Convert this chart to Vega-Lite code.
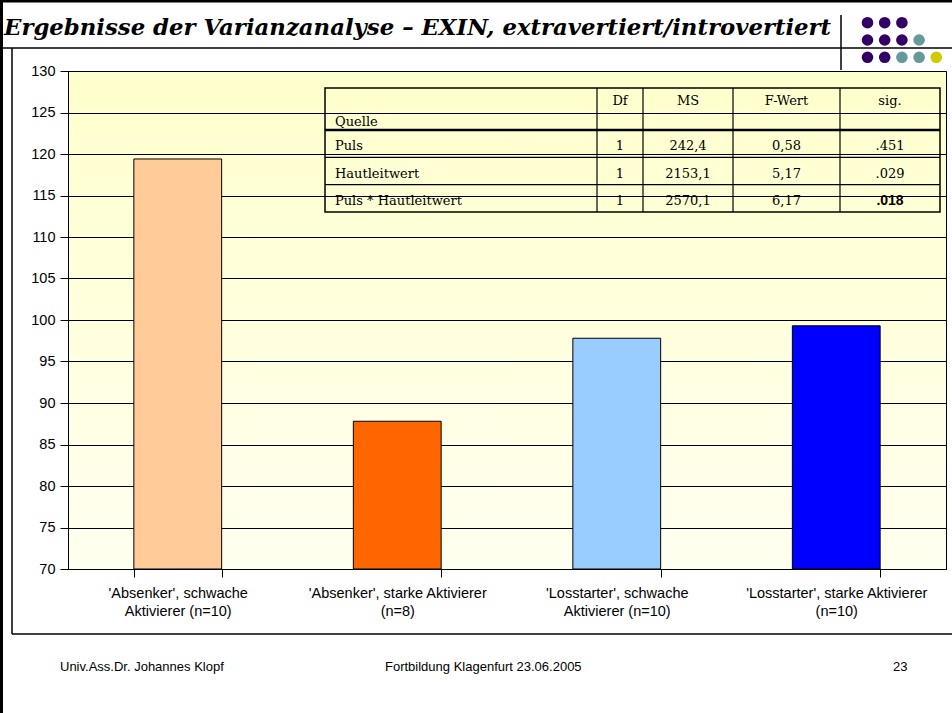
{
  "$schema": "https://vega.github.io/schema/vega-lite/v6.json",
  "width": 878,
  "height": 498,
  "autosize": {"type": "none"},
  "padding": {"left": 68, "top": 71, "right": 6, "bottom": 144},
  "background": "#ffffff",
  "config": {
    "view": {
      "fill": {"gradient": "linear", "x1": 0, "y1": 0, "x2": 0, "y2": 1, "stops": [{"offset": 0, "color": "#FFFFCC"}, {"offset": 1, "color": "#FFFFF0"}]},
      "stroke": "#000000",
      "strokeWidth": 1
    },
    "text": {"font": "Liberation Sans"}
  },
  "data": {"values": [{}]},
  "datasets": {
    "balken": [
      {"gruppe": "'Absenker', schwache Aktivierer (n=10)", "mittelwert": 119.4},
      {"gruppe": "'Absenker', starke Aktivierer (n=8)", "mittelwert": 87.8},
      {"gruppe": "'Losstarter', schwache Aktivierer (n=10)", "mittelwert": 97.8},
      {"gruppe": "'Losstarter', starke Aktivierer (n=10)", "mittelwert": 99.3}
    ],
    "tabelle": [
      {"Quelle": "Puls", "Df": "1", "MS": "242,4", "F": "0,58", "sig": ".451"},
      {"Quelle": "Hautleitwert", "Df": "1", "MS": "2153,1", "F": "5,17", "sig": ".029"},
      {"Quelle": "Puls * Hautleitwert", "Df": "1", "MS": "2570,1", "F": "6,17", "sig": ".018"}
    ],
    "punkte": [
      {"reihe": 1, "spalte": 1, "farbe": "lila"},
      {"reihe": 1, "spalte": 2, "farbe": "lila"},
      {"reihe": 1, "spalte": 3, "farbe": "lila"},
      {"reihe": 2, "spalte": 1, "farbe": "lila"},
      {"reihe": 2, "spalte": 2, "farbe": "lila"},
      {"reihe": 2, "spalte": 3, "farbe": "lila"},
      {"reihe": 2, "spalte": 4, "farbe": "petrol"},
      {"reihe": 3, "spalte": 1, "farbe": "lila"},
      {"reihe": 3, "spalte": 2, "farbe": "lila"},
      {"reihe": 3, "spalte": 3, "farbe": "petrol"},
      {"reihe": 3, "spalte": 4, "farbe": "petrol"},
      {"reihe": 3, "spalte": 5, "farbe": "gelb"}
    ]
  },
  "layer": [
    {
      "layer": [
        {
          "mark": {"type": "text", "align": "left", "baseline": "alphabetic", "font": "DejaVu Serif", "fontSize": 22.8, "fontStyle": "italic", "fontWeight": "bold", "color": "#000000"},
          "encoding": {
            "x": {"datum": -64, "type": "quantitative", "scale": {"domain": [0, 878], "nice": false, "zero": false}, "axis": null},
            "y": {"datum": -36, "type": "quantitative", "scale": {"domain": [0, 498], "nice": false, "zero": false, "reverse": true}, "axis": null},
            "text": {"value": "Ergebnisse der Varianzanalyse – EXIN, extravertiert/introvertiert"}
          }
        },
        {
          "mark": {"type": "text", "align": "left", "baseline": "alphabetic", "font": "Liberation Sans", "fontSize": 13, "color": "#000000"},
          "encoding": {
            "x": {"datum": -8, "type": "quantitative", "scale": {"domain": [0, 878], "nice": false, "zero": false}, "axis": null},
            "y": {"datum": 600, "type": "quantitative", "scale": {"domain": [0, 498], "nice": false, "zero": false, "reverse": true}, "axis": null},
            "text": {"value": "Univ.Ass.Dr. Johannes Klopf"}
          }
        },
        {
          "mark": {"type": "text", "align": "left", "baseline": "alphabetic", "font": "Liberation Sans", "fontSize": 13, "color": "#000000"},
          "encoding": {
            "x": {"datum": 317, "type": "quantitative", "scale": {"domain": [0, 878], "nice": false, "zero": false}, "axis": null},
            "y": {"datum": 600, "type": "quantitative", "scale": {"domain": [0, 498], "nice": false, "zero": false, "reverse": true}, "axis": null},
            "text": {"value": "Fortbildung Klagenfurt 23.06.2005"}
          }
        },
        {
          "mark": {"type": "text", "align": "left", "baseline": "alphabetic", "font": "Liberation Sans", "fontSize": 13, "color": "#000000"},
          "encoding": {
            "x": {"datum": 825, "type": "quantitative", "scale": {"domain": [0, 878], "nice": false, "zero": false}, "axis": null},
            "y": {"datum": 600, "type": "quantitative", "scale": {"domain": [0, 498], "nice": false, "zero": false, "reverse": true}, "axis": null},
            "text": {"value": "23"}
          }
        },
        {
          "mark": {"type": "rule", "color": "#000000", "strokeWidth": 3},
          "encoding": {
            "x": {"datum": -68, "type": "quantitative", "scale": {"domain": [0, 878], "nice": false, "zero": false}, "axis": null},
            "x2": {"datum": 884},
            "y": {"datum": -70, "type": "quantitative", "scale": {"domain": [0, 498], "nice": false, "zero": false, "reverse": true}, "axis": null}
          }
        },
        {
          "mark": {"type": "rule", "color": "#000000", "strokeWidth": 3},
          "encoding": {
            "x": {"datum": -66.5, "type": "quantitative", "scale": {"domain": [0, 878], "nice": false, "zero": false}, "axis": null},
            "y": {"datum": -71, "type": "quantitative", "scale": {"domain": [0, 498], "nice": false, "zero": false, "reverse": true}, "axis": null},
            "y2": {"datum": 642}
          }
        },
        {
          "mark": {"type": "rule", "color": "#000000", "strokeWidth": 1.5},
          "encoding": {
            "x": {"datum": -68, "type": "quantitative", "scale": {"domain": [0, 878], "nice": false, "zero": false}, "axis": null},
            "x2": {"datum": 884},
            "y": {"datum": -23, "type": "quantitative", "scale": {"domain": [0, 498], "nice": false, "zero": false, "reverse": true}, "axis": null}
          }
        },
        {
          "mark": {"type": "rule", "color": "#000000", "strokeWidth": 1.5},
          "encoding": {
            "x": {"datum": 773, "type": "quantitative", "scale": {"domain": [0, 878], "nice": false, "zero": false}, "axis": null},
            "y": {"datum": -56, "type": "quantitative", "scale": {"domain": [0, 498], "nice": false, "zero": false, "reverse": true}, "axis": null},
            "y2": {"datum": -1}
          }
        },
        {
          "mark": {"type": "rule", "color": "#000000", "strokeWidth": 1.5},
          "encoding": {
            "x": {"datum": -56, "type": "quantitative", "scale": {"domain": [0, 878], "nice": false, "zero": false}, "axis": null},
            "y": {"datum": -23, "type": "quantitative", "scale": {"domain": [0, 498], "nice": false, "zero": false, "reverse": true}, "axis": null},
            "y2": {"datum": 563}
          }
        },
        {
          "mark": {"type": "rule", "color": "#000000", "strokeWidth": 1.5},
          "encoding": {
            "x": {"datum": -56, "type": "quantitative", "scale": {"domain": [0, 878], "nice": false, "zero": false}, "axis": null},
            "x2": {"datum": 884},
            "y": {"datum": 563, "type": "quantitative", "scale": {"domain": [0, 498], "nice": false, "zero": false, "reverse": true}, "axis": null}
          }
        }
      ]
    },
    {
      "data": {"name": "punkte"},
      "mark": {"type": "point", "filled": true, "size": 135, "opacity": 1, "strokeWidth": 0},
      "encoding": {
        "x": {"field": "spalte", "type": "quantitative", "scale": {"domain": [1, 5], "range": [799.5, 868.3], "nice": false, "zero": false}, "axis": null},
        "y": {"field": "reihe", "type": "quantitative", "scale": {"domain": [1, 3], "range": [-48.3, -13.7], "nice": false, "zero": false}, "axis": null},
        "color": {"field": "farbe", "type": "nominal", "scale": {"domain": ["lila", "petrol", "gelb"], "range": ["#330066", "#669999", "#CCCC00"]}, "legend": null}
      }
    },
    {
      "data": {"name": "balken"},
      "mark": {"type": "bar", "stroke": "#000000", "strokeWidth": 1},
      "encoding": {
        "x": {
          "field": "gruppe", "type": "nominal", "sort": null,
          "scale": {"paddingInner": 0.6, "paddingOuter": 0.3},
          "axis": {
            "orient": "bottom", "title": null, "tickBand": "extent", "tickSize": 8, "tickColor": "#000000",
            "domainColor": "#000000", "labelAngle": 0, "labelFont": "Liberation Sans", "labelFontSize": 14.5,
            "labelColor": "#000000", "labelPadding": 9, "labelLineHeight": 18, "labelLimit": 0,
            "labelExpr": "indexof(datum.label, 'schwache') >= 0 ? [substring(datum.label, 0, indexof(datum.label, ' Aktivierer')), substring(datum.label, indexof(datum.label, ' Aktivierer') + 1)] : [substring(datum.label, 0, indexof(datum.label, ' (n=')), substring(datum.label, indexof(datum.label, ' (n=') + 1)]"
          }
        },
        "y": {
          "field": "mittelwert", "type": "quantitative",
          "scale": {"domain": [70, 130], "nice": false, "zero": false},
          "axis": {
            "orient": "left", "title": null, "values": [70, 75, 80, 85, 90, 95, 100, 105, 110, 115, 120, 125, 130],
            "grid": true, "gridColor": "#000000", "gridWidth": 1, "gridOpacity": 1,
            "domainColor": "#000000", "tickColor": "#000000", "tickSize": 8,
            "labelFont": "Liberation Sans", "labelFontSize": 14.5, "labelColor": "#000000", "labelPadding": 5
          }
        },
        "y2": {"datum": 70},
        "color": {"field": "gruppe", "type": "nominal", "sort": null, "scale": {"range": ["#FFCC99", "#FF6600", "#99CCFF", "#0000FF"]}, "legend": null}
      }
    },
    {
      "layer": [
        {
          "mark": {"type": "rect", "fill": "#ffffff", "fillOpacity": 0, "stroke": "#000000", "strokeWidth": 1.5},
          "encoding": {
            "x": {"datum": 257, "type": "quantitative", "scale": {"domain": [0, 878], "nice": false, "zero": false}, "axis": null},
            "x2": {"datum": 872},
            "y": {"datum": 17, "type": "quantitative", "scale": {"domain": [0, 498], "nice": false, "zero": false, "reverse": true}, "axis": null},
            "y2": {"datum": 141}
          }
        },
        {
          "mark": {"type": "rule", "color": "#000000", "strokeWidth": 1.2},
          "encoding": {
            "x": {"datum": 529, "type": "quantitative", "scale": {"domain": [0, 878], "nice": false, "zero": false}, "axis": null},
            "y": {"datum": 17, "type": "quantitative", "scale": {"domain": [0, 498], "nice": false, "zero": false, "reverse": true}, "axis": null},
            "y2": {"datum": 141}
          }
        },
        {
          "mark": {"type": "rule", "color": "#000000", "strokeWidth": 1.2},
          "encoding": {
            "x": {"datum": 575, "type": "quantitative", "scale": {"domain": [0, 878], "nice": false, "zero": false}, "axis": null},
            "y": {"datum": 17, "type": "quantitative", "scale": {"domain": [0, 498], "nice": false, "zero": false, "reverse": true}, "axis": null},
            "y2": {"datum": 141}
          }
        },
        {
          "mark": {"type": "rule", "color": "#000000", "strokeWidth": 1.2},
          "encoding": {
            "x": {"datum": 665, "type": "quantitative", "scale": {"domain": [0, 878], "nice": false, "zero": false}, "axis": null},
            "y": {"datum": 17, "type": "quantitative", "scale": {"domain": [0, 498], "nice": false, "zero": false, "reverse": true}, "axis": null},
            "y2": {"datum": 141}
          }
        },
        {
          "mark": {"type": "rule", "color": "#000000", "strokeWidth": 1.2},
          "encoding": {
            "x": {"datum": 772, "type": "quantitative", "scale": {"domain": [0, 878], "nice": false, "zero": false}, "axis": null},
            "y": {"datum": 17, "type": "quantitative", "scale": {"domain": [0, 498], "nice": false, "zero": false, "reverse": true}, "axis": null},
            "y2": {"datum": 141}
          }
        },
        {
          "mark": {"type": "text", "align": "left", "baseline": "alphabetic", "font": "DejaVu Serif", "fontSize": 13, "color": "#000000"},
          "encoding": {
            "x": {"datum": 267, "type": "quantitative", "scale": {"domain": [0, 878], "nice": false, "zero": false}, "axis": null},
            "y": {"datum": 55, "type": "quantitative", "scale": {"domain": [0, 498], "nice": false, "zero": false, "reverse": true}, "axis": null},
            "text": {"value": "Quelle"}
          }
        },
        {
          "mark": {"type": "text", "align": "center", "baseline": "alphabetic", "font": "DejaVu Serif", "fontSize": 13, "color": "#000000"},
          "encoding": {
            "x": {"datum": 552, "type": "quantitative", "scale": {"domain": [0, 878], "nice": false, "zero": false}, "axis": null},
            "y": {"datum": 34, "type": "quantitative", "scale": {"domain": [0, 498], "nice": false, "zero": false, "reverse": true}, "axis": null},
            "text": {"value": "Df"}
          }
        },
        {
          "mark": {"type": "text", "align": "center", "baseline": "alphabetic", "font": "DejaVu Serif", "fontSize": 13, "color": "#000000"},
          "encoding": {
            "x": {"datum": 620, "type": "quantitative", "scale": {"domain": [0, 878], "nice": false, "zero": false}, "axis": null},
            "y": {"datum": 34, "type": "quantitative", "scale": {"domain": [0, 498], "nice": false, "zero": false, "reverse": true}, "axis": null},
            "text": {"value": "MS"}
          }
        },
        {
          "mark": {"type": "text", "align": "center", "baseline": "alphabetic", "font": "DejaVu Serif", "fontSize": 13, "color": "#000000"},
          "encoding": {
            "x": {"datum": 718.5, "type": "quantitative", "scale": {"domain": [0, 878], "nice": false, "zero": false}, "axis": null},
            "y": {"datum": 34, "type": "quantitative", "scale": {"domain": [0, 498], "nice": false, "zero": false, "reverse": true}, "axis": null},
            "text": {"value": "F-Wert"}
          }
        },
        {
          "mark": {"type": "text", "align": "center", "baseline": "alphabetic", "font": "DejaVu Serif", "fontSize": 13, "color": "#000000"},
          "encoding": {
            "x": {"datum": 822, "type": "quantitative", "scale": {"domain": [0, 878], "nice": false, "zero": false}, "axis": null},
            "y": {"datum": 34, "type": "quantitative", "scale": {"domain": [0, 498], "nice": false, "zero": false, "reverse": true}, "axis": null},
            "text": {"value": "sig."}
          }
        }
      ]
    },
    {
      "data": {"name": "tabelle"},
      "layer": [
        {
          "mark": {"type": "rule", "color": "#000000"},
          "encoding": {
            "x": {"datum": 257, "type": "quantitative", "scale": {"domain": [0, 878], "nice": false, "zero": false}, "axis": null},
            "x2": {"datum": 872},
            "y": {"field": "Quelle", "type": "nominal", "bandPosition": 0, "scale": {"type": "band", "domain": ["Puls", "Hautleitwert", "Puls * Hautleitwert"], "range": [59, 141], "paddingInner": 0, "paddingOuter": 0}, "axis": null},
            "strokeWidth": {"condition": {"test": "datum.Quelle === 'Puls'", "value": 2.5}, "value": 1.3}
          }
        },
        {
          "mark": {"type": "text", "align": "left", "baseline": "middle", "font": "DejaVu Serif", "fontSize": 13, "color": "#000000"},
          "encoding": {
            "x": {"datum": 267, "type": "quantitative", "scale": {"domain": [0, 878], "nice": false, "zero": false}, "axis": null},
            "y": {"field": "Quelle", "type": "nominal", "bandPosition": 0.6, "scale": {"type": "band", "domain": ["Puls", "Hautleitwert", "Puls * Hautleitwert"], "range": [59, 141], "paddingInner": 0, "paddingOuter": 0}, "axis": null},
            "text": {"field": "Quelle"}
          }
        },
        {
          "mark": {"type": "text", "align": "center", "baseline": "middle", "font": "DejaVu Serif", "fontSize": 13, "color": "#000000"},
          "encoding": {
            "x": {"datum": 552, "type": "quantitative", "scale": {"domain": [0, 878], "nice": false, "zero": false}, "axis": null},
            "y": {"field": "Quelle", "type": "nominal", "bandPosition": 0.6, "scale": {"type": "band", "domain": ["Puls", "Hautleitwert", "Puls * Hautleitwert"], "range": [59, 141], "paddingInner": 0, "paddingOuter": 0}, "axis": null},
            "text": {"field": "Df"}
          }
        },
        {
          "mark": {"type": "text", "align": "center", "baseline": "middle", "font": "DejaVu Serif", "fontSize": 13, "color": "#000000"},
          "encoding": {
            "x": {"datum": 620, "type": "quantitative", "scale": {"domain": [0, 878], "nice": false, "zero": false}, "axis": null},
            "y": {"field": "Quelle", "type": "nominal", "bandPosition": 0.6, "scale": {"type": "band", "domain": ["Puls", "Hautleitwert", "Puls * Hautleitwert"], "range": [59, 141], "paddingInner": 0, "paddingOuter": 0}, "axis": null},
            "text": {"field": "MS"}
          }
        },
        {
          "mark": {"type": "text", "align": "center", "baseline": "middle", "font": "DejaVu Serif", "fontSize": 13, "color": "#000000"},
          "encoding": {
            "x": {"datum": 718.5, "type": "quantitative", "scale": {"domain": [0, 878], "nice": false, "zero": false}, "axis": null},
            "y": {"field": "Quelle", "type": "nominal", "bandPosition": 0.6, "scale": {"type": "band", "domain": ["Puls", "Hautleitwert", "Puls * Hautleitwert"], "range": [59, 141], "paddingInner": 0, "paddingOuter": 0}, "axis": null},
            "text": {"field": "F"}
          }
        },
        {
          "transform": [{"filter": "datum.Quelle !== 'Puls * Hautleitwert'"}],
          "mark": {"type": "text", "align": "center", "baseline": "middle", "font": "DejaVu Serif", "fontSize": 13, "color": "#000000"},
          "encoding": {
            "x": {"datum": 822, "type": "quantitative", "scale": {"domain": [0, 878], "nice": false, "zero": false}, "axis": null},
            "y": {"field": "Quelle", "type": "nominal", "bandPosition": 0.6, "scale": {"type": "band", "domain": ["Puls", "Hautleitwert", "Puls * Hautleitwert"], "range": [59, 141], "paddingInner": 0, "paddingOuter": 0}, "axis": null},
            "text": {"field": "sig"}
          }
        },
        {
          "transform": [{"filter": "datum.Quelle === 'Puls * Hautleitwert'"}],
          "mark": {"type": "text", "align": "center", "baseline": "middle", "font": "Liberation Sans", "fontSize": 14, "fontWeight": "bold", "color": "#000000"},
          "encoding": {
            "x": {"datum": 822, "type": "quantitative", "scale": {"domain": [0, 878], "nice": false, "zero": false}, "axis": null},
            "y": {"field": "Quelle", "type": "nominal", "bandPosition": 0.6, "scale": {"type": "band", "domain": ["Puls", "Hautleitwert", "Puls * Hautleitwert"], "range": [59, 141], "paddingInner": 0, "paddingOuter": 0}, "axis": null},
            "text": {"field": "sig"}
          }
        }
      ]
    }
  ],
  "resolve": {"scale": {"x": "independent", "y": "independent", "color": "independent"}}
}
